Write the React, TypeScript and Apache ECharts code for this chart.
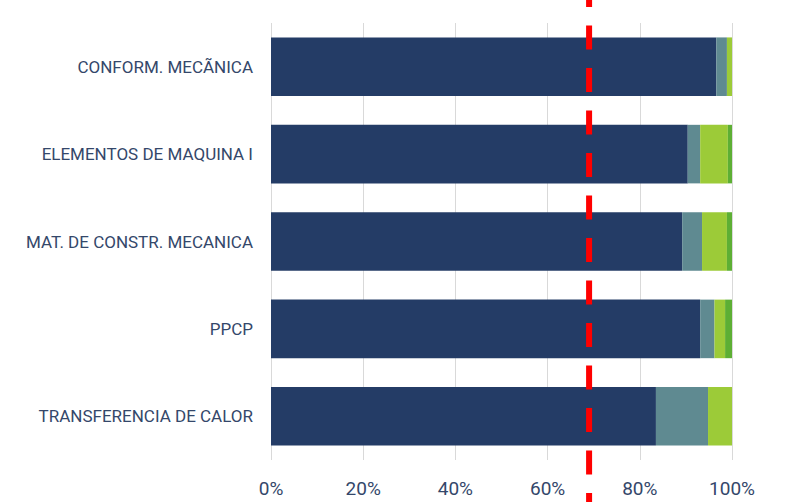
import React, { useEffect, useRef } from "react";
import * as echarts from "echarts";

const categories = [
  "CONFORM. MECÃNICA",
  "ELEMENTOS DE MAQUINA I",
  "MAT. DE CONSTR. MECANICA",
  "PPCP",
  "TRANSFERENCIA DE CALOR",
];
const serieA = [96.6, 90.4, 89.2, 93.1, 83.5];
const serieB = [2.3, 2.7, 4.3, 3.1, 11.3];
const serieC = [1.1, 6.0, 5.4, 2.3, 5.2];
const serieD = [0, 0.9, 1.1, 1.5, 0];
const refValue = 69;
const xTicks = [0, 20, 40, 60, 80, 100];

const colors = ["#243c66", "#5f8a91", "#9ccb38", "#5daf34"];

export default function App() {
  const ref = useRef<HTMLDivElement>(null);
  useEffect(() => {
    if (!ref.current) return;
    const chart = echarts.init(ref.current, undefined, { renderer: "svg" });
    const mk = (name: string, data: number[], color: string) => ({
      name,
      type: "bar",
      stack: "total",
      data,
      barCategoryGap: "33%",
      itemStyle: { color },
    });
    chart.setOption({
      animation: false,
      grid: { left: 271, right: 54, top: 23, bottom: 42, containLabel: false },
      xAxis: {
        type: "value",
        min: xTicks[0],
        max: xTicks[xTicks.length - 1],
        interval: 20,
        axisLine: { show: false },
        axisTick: { show: false },
        splitLine: { show: true, lineStyle: { color: "#d9d9d9", width: 1 } },
        axisLabel: {
          formatter: "{value}%",
          color: "#34476a",
          fontFamily: "Roboto",
          fontSize: 19,
          margin: 19,
        },
      },
      yAxis: {
        type: "category",
        data: categories,
        inverse: true,
        axisLine: { show: false },
        axisTick: { show: false },
        splitLine: { show: false },
        axisLabel: {
          color: "#34476a",
          fontFamily: "Roboto",
          fontSize: 17,
          margin: 18,
        },
      },
      series: [
        mk("A", serieA, colors[0]),
        mk("B", serieB, colors[1]),
        mk("C", serieC, colors[2]),
        mk("D", serieD, colors[3]),
      ],
    });
    const px = chart.convertToPixel({ xAxisIndex: 0 }, refValue) as number;
    chart.setOption({
      graphic: [
        {
          type: "line",
          z: 100,
          shape: { x1: px, y1: 0, x2: px, y2: 502 },
          style: {
            stroke: "#ff0000",
            lineWidth: 6,
            lineDash: [24, 18.5],
            lineDashOffset: 16.5,
          },
        },
      ],
    });
    return () => chart.dispose();
  }, []);
  return <div ref={ref} style={{ width: 786, height: 502, position: "absolute", left: 0, top: 0 }} />;
}
